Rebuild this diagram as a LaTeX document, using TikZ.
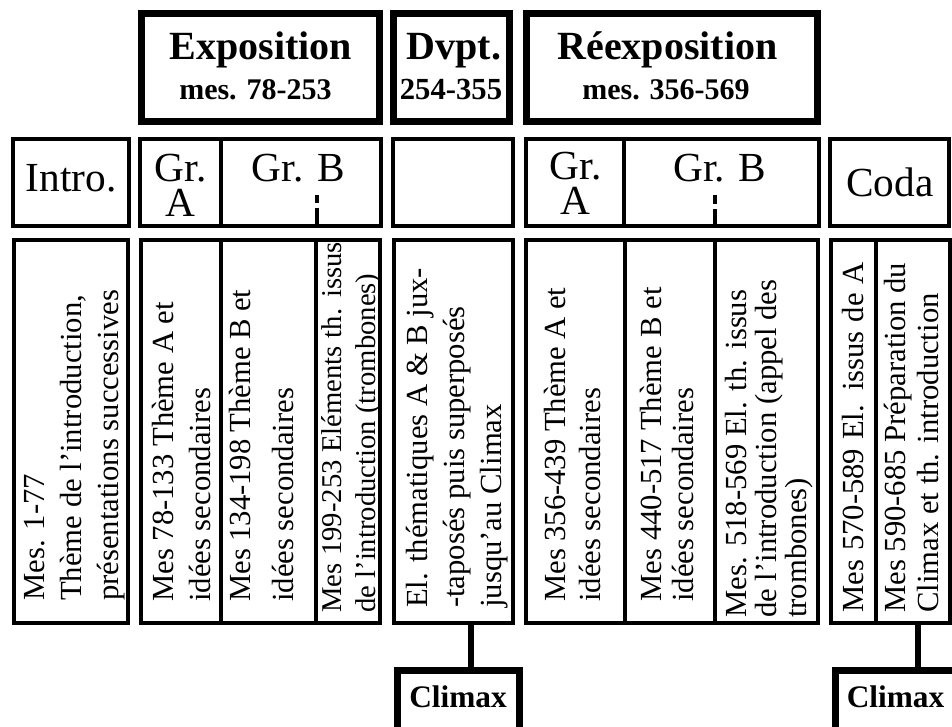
\documentclass[tikz,border=0pt]{standalone}
\usepackage{fontspec}
\setmainfont{Liberation Serif}
\usetikzlibrary{fit}

\tikzset{
  box/.style={draw, inner sep=0pt, outer sep=0pt},
  bigbox/.style={box, line width=5.2pt},
  headbox/.style={box, line width=3pt},
  bodybox/.style={box, line width=3.3pt},
  climaxbox/.style={box, line width=5pt},
  divider/.style={line width=2.5pt},
  link/.style={line width=5pt},
  tick/.style={line width=3pt},
  title/.style={inner sep=0pt, anchor=base, font=\fontsize{30}{30}\selectfont\bfseries},
  subtitle/.style={inner sep=0pt, anchor=base, font=\fontsize{22.5}{24}\selectfont\bfseries},
  headtext/.style={inner sep=0pt, anchor=base, font=\fontsize{31}{26.25}\selectfont},
  coltext/.style={inner sep=0pt, rotate=90, anchor=base west, align=left},
  climaxtext/.style={inner sep=0pt, anchor=base, font=\fontsize{23.5}{26}\selectfont\bfseries},
}
\newcommand{\bodyfont}[1]{\fontsize{23}{#1}\selectfont}

\begin{document}
\begin{tikzpicture}[x=0.75pt, y=-0.75pt]
\useasboundingbox (0,0) rectangle (952,727);
\clip (0,0) rectangle (952,727);

% ---- top row: the three sections of the sonata form
\node[bigbox, fit={(141.5,13.5) (379.5,121.5)}] (expo) {};
\node[bigbox, fit={(393.5,13.5) (509.5,121.5)}] (dvpt) {};
\node[bigbox, fit={(526.5,13.5) (817.5,121.5)}] (reexpo) {};

\node[title] (tExpo) at (261,60) {Exposition};
\node[subtitle] (tExpoM) at (255.5,100) {mes. 78-253};
\node[title] (tDvpt) at (454,60) {Dvpt.};
\node[subtitle, font=\fontsize{23}{24}\selectfont\bfseries] (tDvptM) at (451,100) {254-355};
\node[title] (tRe) at (667.5,60) {Réexposition};
\node[subtitle] (tReM) at (666,100) {mes. 356-569};

% ---- second row: groups
\node[headbox, fit={(13,139) (129,226)}] (hIntroBox) {};
\node[headbox, fit={(140,139) (381,226)}] (hExpoBox) {};
\node[headbox, fit={(393,139) (513,226)}] (hDvptBox) {};
\node[headbox, fit={(526,139) (819,226)}] (hReBox) {};
\node[headbox, fit={(830,139) (949,226)}] (hCodaBox) {};

\draw[divider] (221,139) -- (221,226);
\draw[divider] (624,139) -- (624,226);
\draw[tick] (317,195) -- (317,203) (317,208) -- (317,226);
\draw[tick] (715,195) -- (715,204) (715,209) -- (715,226);

% multi-line nodes: the base anchor sits on the last line
\node[headtext] (hIntro) at (71,192) {Intro.};
\node[headtext, align=center] (hA1) at (180.5,217) {Gr.\\A};
\node[headtext] (hB1) at (298.5,182) {Gr. B};
\node[headtext, align=center] (hA2) at (575.5,215) {Gr.\\A};
\node[headtext] (hB2) at (720,182) {Gr. B};
\node[headtext] (hCoda) at (890,197) {Coda};

% ---- third row: detailed contents
\node[bodybox, fit={(14,240) (128,623)}] (bIntro) {};
\node[bodybox, fit={(141,240) (380,623)}] (bExpo) {};
\node[bodybox, fit={(394,240) (513,623)}] (bDvpt) {};
\node[bodybox, fit={(526,240) (818,623)}] (bRe) {};
\node[bodybox, fit={(831,240) (950,623)}] (bCoda) {};

\draw[divider] (221,240) -- (221,623);
\draw[divider] (316,240) -- (316,623);
\draw[divider] (625,240) -- (625,623);
\draw[divider] (715,240) -- (715,623);
\draw[divider] (876,240) -- (876,623);

\node[coltext, font=\bodyfont{27.4}] (cIntro) at (118,601)
  {Mes. 1-77\\Thème de l'introduction,\\présentations successives};
\node[coltext, font=\bodyfont{27.75}] (cExpoA) at (210,602)
  {Mes 78-133 Thème A et\\idées secondaires};
\node[coltext, font=\bodyfont{32.25}] (cExpoB) at (293,602)
  {\makebox[234pt][s]{Mes 134-198 Thème B et}\\idées secondaires};
\node[coltext, font=\fontsize{21.5}{25.5}\selectfont] (cExpoC) at (375,613)
  {\makebox[278pt][s]{Mes 199-253 Eléments th. issus}\\de l'introduction (trombones)};
\node[coltext, font=\bodyfont{27.4}] (cDvpt) at (501,608)
  {El. thématiques A \& B jux-\\-taposés puis superposés\\jusqu'au Climax};
\node[coltext, font=\bodyfont{26.25}] (cReA) at (600,602)
  {\makebox[235.5pt][s]{Mes 356-439 Thème A et}\\idées secondaires};
\node[coltext, font=\bodyfont{24}] (cReB) at (693,602)
  {\makebox[236pt][s]{Mes 440-517 Thème B et}\\idées secondaires};
\node[coltext, font=\bodyfont{22.5}] (cReC) at (806,618)
  {\makebox[246pt][s]{Mes. 518-569 El. th. issus}\\de l'introduction (appel des\\trombones)};
\node[coltext, font=\bodyfont{24}] (cCodaA) at (863,613)
  {\makebox[263pt][s]{Mes 570-589 El. issus de A}};
\node[coltext, font=\bodyfont{24.75}] (cCodaB) at (938,613)
  {Mes 590-685 Préparation du\\Climax et th. introduction};

% ---- climaxes
\node[climaxbox, fit={(397.5,670.5) (519.5,745)}] (climax1) {};
\node[climaxbox, fit={(835.5,670.5) (957.5,745)}] (climax2) {};
\node[climaxtext] (tClimax1) at (458,707) {Climax};
\node[climaxtext] (tClimax2) at (895.5,707) {Climax};

\coordinate (k1) at (471,0);
\coordinate (k2) at (918,0);
\draw[link] (bDvpt.south -| k1) -- (climax1.north -| k1);
\draw[link] (bCoda.south -| k2) -- (climax2.north -| k2);
\end{tikzpicture}
\end{document}
